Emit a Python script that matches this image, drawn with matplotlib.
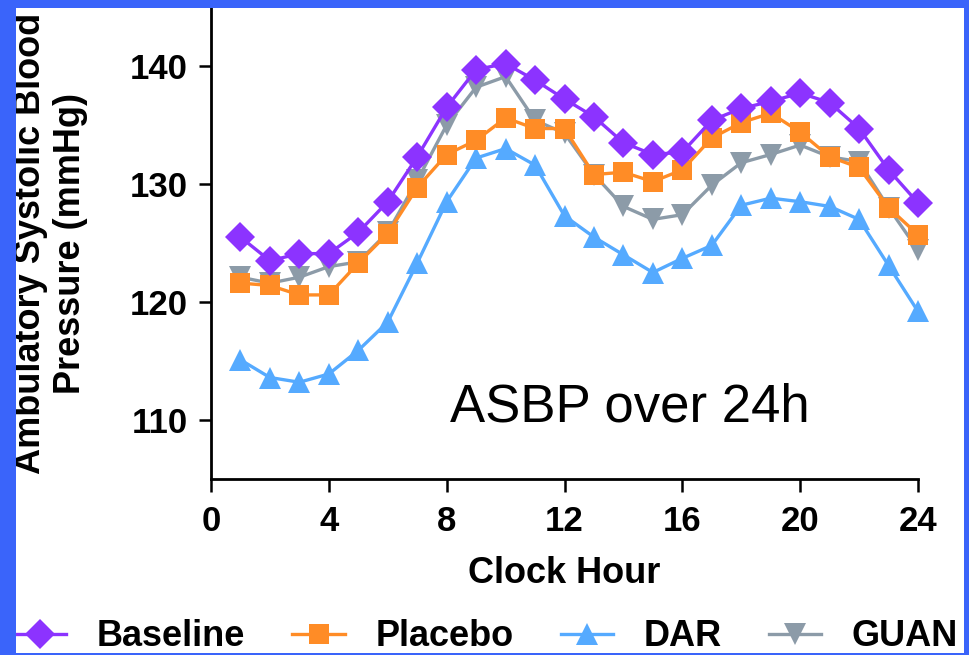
from matplotlib import pyplot as plt
from matplotlib.patches import Rectangle

hours = list(range(1, 25))

baseline = [125.5, 123.5, 124.1, 124.1, 125.9, 128.5, 132.3, 136.5, 139.7, 140.2,
            138.8, 137.2, 135.7, 133.5, 132.5, 132.7, 135.4, 136.4, 137.0, 137.7,
            136.9, 134.7, 131.2, 128.4]
placebo = [121.6, 121.4, 120.6, 120.6, 123.3, 125.8, 129.7, 132.5, 133.7, 135.6,
           134.7, 134.7, 130.8, 131.0, 130.2, 131.2, 133.9, 135.2, 136.0, 134.4,
           132.3, 131.4, 128.0, 125.7]
dar = [115.1, 113.6, 113.2, 113.9, 115.9, 118.3, 123.3, 128.5, 132.2, 133.0,
       131.6, 127.3, 125.5, 124.0, 122.5, 123.7, 124.8, 128.2, 128.8, 128.5,
       128.1, 127.0, 123.1, 119.2]
guan = [122.1, 121.6, 122.1, 123.0, 123.4, 125.9, 130.3, 135.0, 138.2, 139.1,
        135.4, 134.3, 130.8, 128.1, 127.0, 127.4, 129.9, 131.8, 132.5, 133.3,
        132.3, 131.9, 128.0, 124.4]

series = [
    ("Baseline", baseline, "#8c33ff", "D", 15.5),
    ("Placebo", placebo, "#ff8c26", "s", 15),
    ("DAR", dar, "#55aaff", "^", 16.5),
    ("GUAN", guan, "#8c9ba8", "v", 16.5),
]

x_ticks = [0, 4, 8, 12, 16, 20, 24]
y_ticks = [110, 120, 130, 140]

plt.rcParams['font.family'] = ['Liberation Sans', 'DejaVu Sans']

W, H = 969, 655
fig = plt.figure(figsize=(W / 100, H / 100), dpi=100)
fig.patch.set_facecolor("white")
ax = fig.add_axes([211 / W, 1 - 479 / H, (918 - 211) / W, (479 - 7) / H])

# draw in reverse so Baseline ends on top
handles = {}
for name, vals, color, marker, ms in reversed(series):
    line, = ax.plot(hours, vals, color=color, marker=marker, markersize=ms,
                    linewidth=2.4, markeredgewidth=0, label=name, clip_on=False)
    handles[name] = line

ax.set_xlim(0, 24)
ax.set_ylim(105, 145)
ax.set_xticks(x_ticks)
ax.set_yticks(y_ticks)
for side in ("top", "right"):
    ax.spines[side].set_visible(False)
for side in ("left", "bottom"):
    ax.spines[side].set_linewidth(2)
ax.tick_params(axis="both", length=9, width=1.8, labelsize=25)
ax.tick_params(axis="x", pad=10)
ax.tick_params(axis="y", pad=8)
for lbl in ax.get_xticklabels() + ax.get_yticklabels():
    lbl.set_fontweight("bold")

ax.set_xlabel("Clock Hour", fontsize=26, fontweight="bold", labelpad=13)
ax.set_ylabel("Ambulatory Systolic Blood\nPressure (mmHg)", fontsize=26,
              fontweight="bold")
ax.yaxis.set_label_coords(-0.174, 0.5)

ax.text(8.1, 111.1, "ASBP over 24h", fontsize=38, va="center", ha="left")

leg = fig.legend([handles[s[0]] for s in series], [s[0] for s in series],
                 loc="center left", bbox_to_anchor=(14 / W, 1 - 637 / H),
                 ncol=4, frameon=False, fontsize=26, handlelength=1.45,
                 handletextpad=0.85, columnspacing=1.3, borderpad=0,
                 borderaxespad=0)
for t in leg.get_texts():
    t.set_fontweight("bold")

# blue slide border drawn over everything
blue = "#3a64fa"
for (x0, y0, w, h) in [(0, 0, 16, H), (964, 0, W - 964, H),
                       (0, 0, W, 8), (0, H - 2, W, 2)]:
    fig.patches.append(Rectangle((x0 / W, 1 - (y0 + h) / H), w / W, h / H,
                                 transform=fig.transFigure, facecolor=blue,
                                 edgecolor="none", zorder=20))

fig.savefig("out.png", dpi=100)
